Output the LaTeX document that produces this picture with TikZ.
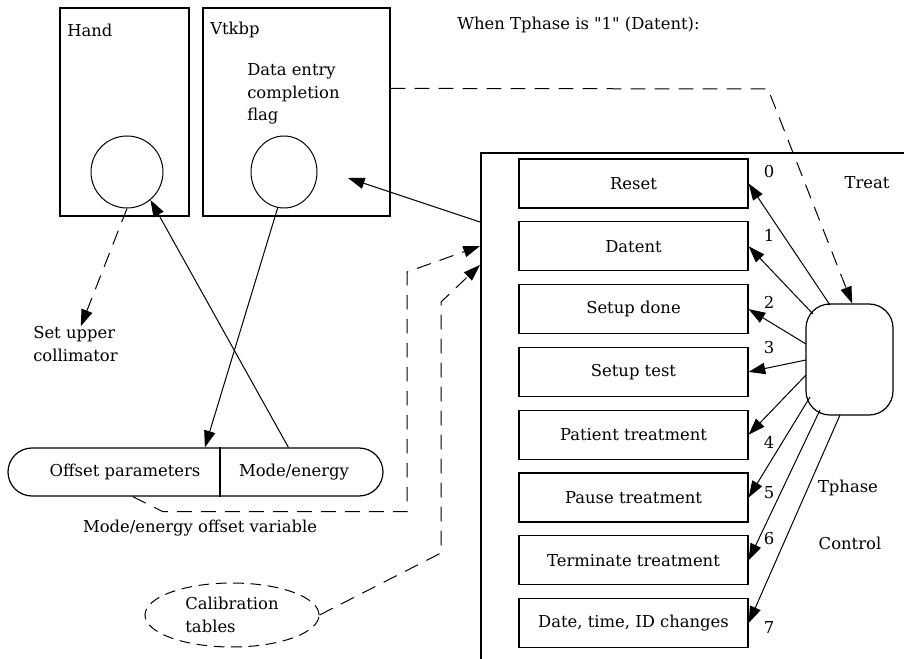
\documentclass[tikz,border=0pt]{standalone}
\usepackage{fontspec}
\setmainfont{DejaVu Serif}[Ligatures=TeXOff]
\usetikzlibrary{shapes.geometric,arrows.meta,calc}
\newcommand{\figfont}{\fontsize{12.3pt}{16.9pt}\selectfont}
\tikzset{
  module/.style={
    rectangle, draw, line width=0.9pt, minimum height=156pt, inner sep=0pt},
  treatframe/.style={
    rectangle, draw, line width=1.3pt, minimum width=450pt,
    minimum height=420pt, inner sep=0pt},
  phasebox/.style={
    rectangle, draw, line width=0.9pt, minimum width=171.75pt,
    minimum height=36.75pt, inner sep=0pt},
  ctrlnode/.style={
    rectangle, rounded corners=18pt, draw, line width=0.9pt,
    minimum width=65.25pt, minimum height=83.25pt},
  pill/.style={
    rectangle, rounded corners=18pt, draw, line width=0.9pt,
    minimum width=281.25pt, minimum height=36pt},
  calib/.style={
    ellipse, draw, dashed, dash pattern=on 8pt off 5pt, line width=0.75pt,
    minimum width=130.5pt, minimum height=48pt, inner sep=0pt, align=left},
  lbl/.style={inner sep=0pt},
  flow/.style={-{Triangle[length=12.5pt,width=8.5pt]}, line width=0.75pt},
  dflow/.style={flow, dash pattern=on 11pt off 7pt}
}

\begin{document}
\begin{tikzpicture}[x=0.75pt,y=-0.75pt,font=\figfont]
\useasboundingbox (0,0) rectangle (904,659);
\clip (0,0) rectangle (904,659);

% Modules
\node[module, minimum width=96.75pt] (hand) at (124.5,112) {};
\node[module, minimum width=140.25pt] (vtk) at (296.5,112) {};
\node[lbl, anchor=west] (handlbl) at (67,30) {Hand};
\node[lbl, anchor=west] (vtklbl) at (210,30) {Vtkbp};
\node[lbl, anchor=west, align=left] (flagtxt) at (247,94) {Data entry\\completion\\flag};
\node[circle, draw, line width=0.75pt, minimum size=54pt] (handc) at (127,172) {};
\node[ellipse, draw, line width=0.75pt, minimum width=49.5pt, minimum height=54pt] (vtkc) at (284,172) {};
\node[lbl, anchor=west, align=left] (collim) at (33,344) {Set upper\\collimator};
\node[lbl, anchor=west] (when) at (457,25) {When Tphase is "1" (Datent):};

% Offset variable
\node[pill] (oev) at (195.5,472) {};
\node[lbl] (offs) at (125,472) {Offset parameters};
\node[lbl] (mode) at (294,472) {Mode/energy};
\draw[line width=0.9pt] ($(oev.north west)!0.565!(oev.north east)$) -- ($(oev.south west)!0.565!(oev.south east)$);
\node[lbl] (oevlbl) at (200,528) {Mode/energy offset variable};
\node[calib] (cal) at (232,615) {Calibration\\tables};

% Treat
\node[treatframe, anchor=north west] (treat) at (480,152) {};
\foreach \nm/\txt/\i in {reset/Reset/0, datent/Datent/1, sdone/Setup done/2,
    stest/Setup test/3, patient/Patient treatment/4, pause/Pause treatment/5,
    term/Terminate treatment/6, dtid/{Date, time, ID changes}/7}
  \node[phasebox] (\nm) at (633.5,183.5+62.8*\i) {\txt};
\node[ctrlnode] (ctrl) at (849.5,359.5) {};
\foreach \n/\y in {0/172,1/235,2/302,3/348,4/442,5/493,6/539,7/628}
  \node[lbl] (num\n) at (769,\y) {\n};
\node[lbl] (treatlbl) at (867,183) {Treat};
\node[lbl] (tphase) at (848,488) {Tphase};
\node[lbl] (control) at (850,543) {Control};

\foreach \nm/\sx/\sy in {reset/-19.5/-54.5, datent/-36.5/-45.5, sdone/-43.5/-15.5,
    stest/-43.5/0.5, patient/-43.5/15.5, pause/-39.5/37.5, term/-29.5/50.5,
    dtid/-9.5/55.5}
  \draw[flow] ([shift={(\sx,\sy)}]ctrl.center) -- (\nm.east);

% Data flows
\coordinate (flagpt) at (348,178);
\coordinate (k1) at (407,272);
\coordinate (k2) at (441,553);
\coordinate (k3) at (441,302);
\coordinate (k4) at (768,89);
\draw[dflow] (handc.south) -- ([xshift=4pt]collim.north);
\draw[flow] ($(oev.north west)!0.747!(oev.north east)$) -- (handc.-50);
\draw[flow] (vtkc.-100) -- ($(oev.north west)!0.525!(oev.north east)$);
\draw[flow] ($(treat.north west)+(0,70)$) -- (flagpt);
\draw[dflow] ($(oev.south west)!0.333!(oev.south east)$) -- ++(30,15) -| (k1)
  -- ($(treat.north west)+(0,94)$);
\draw[dflow] (cal.east) -- (k2) -- (k3) -- ($(treat.north west)+(0,113)$);
\draw[dflow] ($(vtk.north east)+(0,81)$) -- (k4) -- ([xshift=2pt]ctrl.north);

\end{tikzpicture}
\end{document}
